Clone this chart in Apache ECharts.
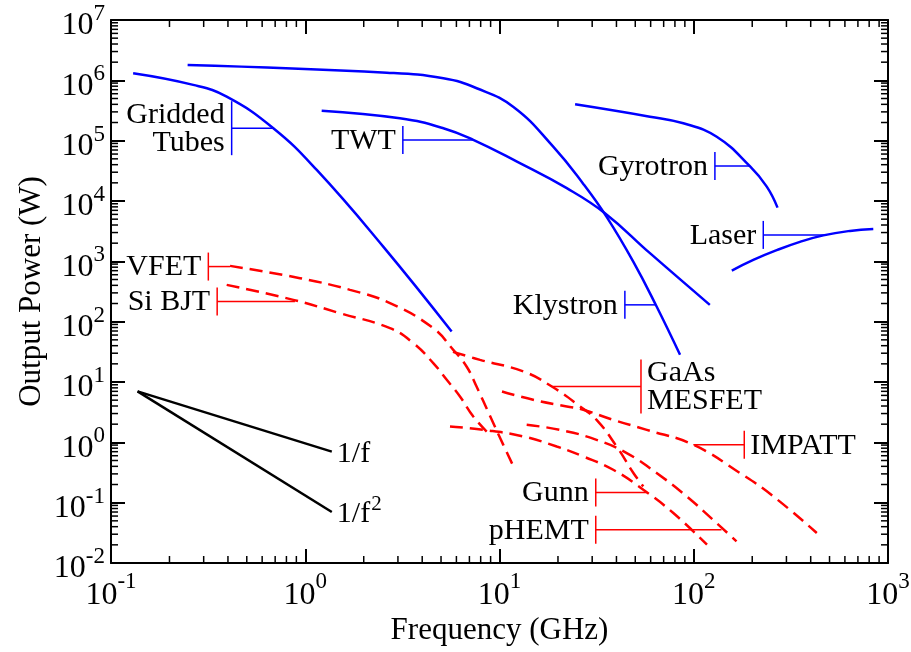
<!DOCTYPE html>
<html>
<head>
<meta charset="utf-8">
<script src="https://cdn.jsdelivr.net/npm/echarts@6/dist/echarts.min.js"></script>
<style>
  html, body { margin: 0; padding: 0; background: #fff; }
  #chart { width: 911px; height: 652px; }
</style>
</head>
<body>
<div id="chart"></div>
<script>
// Output power (W) versus frequency (GHz) for vacuum and solid-state sources.
const FONT = '"Liberation Serif", "Times New Roman", Times, serif';
const BLUE = '#0000ff';
const RED = '#ff0000';

// Axis ranges
const xMin = 0.1, xMax = 1000;
const yMin = 0.01, yMax = 1e7;

// Decade tick labels (drawn as 10 with a raised exponent)
const xTickValues = [0.1, 1, 10, 100, 1000];
const yTickValues = [0.01, 0.1, 1, 10, 100, 1000, 1e4, 1e5, 1e6, 1e7];

// Vacuum devices: [frequency GHz, power W]
const griddedTubes = [[0.130, 1.31e6], [0.265, 8.4e5], [0.394, 5.36e5], [0.685, 1.61e5], [1.146, 3.27e4], [2.52, 1755], [5.67, 68.6]];
const klystron = [[0.248, 1.80e6], [2.63, 1.34e6], [5.14, 1.08e6], [7.63, 7.4e5], [11.8, 3.62e5], [18.9, 7.96e4], [27.0, 1.92e4], [35.6, 5450], [48.9, 979], [64.4, 178], [85, 28.2]];
const twt = [[1.215, 3.14e5], [3.07, 2.35e5], [5.14, 1.61e5], [7.33, 1.03e5], [12.3, 4.49e4], [22.2, 1.63e4], [34.9, 6280], [59.5, 1365], [121, 190]];
const gyrotron = [[24.5, 4.01e5], [59.5, 2.5e5], [88.4, 1.94e5], [131.3, 1.16e5], [195, 3.74e4], [237.6, 1.73e4], [270, 7770]];
const laser = [[157, 703], [202.6, 1057], [267.4, 1531], [352, 2099], [464.5, 2692], [637, 3193], [840, 3450]];

// Solid-state devices
const vfet = [[0.410, 841], [0.939, 526], [1.70, 337], [2.73, 203], [4.56, 78], [5.78, 34.1], [6.78, 17.9], [7.63, 8.32], [8.93, 2.75], [10.06, 1.19], [11.8, 0.398]];
const siBjt = [[0.394, 407], [0.868, 230], [1.51, 138], [2.73, 78], [3.60, 44.1], [4.56, 20.6], [5.35, 10.9], [6.26, 5.75], [7.33, 2.68], [8.59, 1.51]];
const gaasMesfet = [[5.76, 31.6], [7.94, 23.3], [13.3, 14.9], [18.6, 8.42], [26.0, 3.93], [31.6, 2.36], [40.1, 0.853], [48.9, 0.310], [55.0, 0.186]];
const impatt = [[10.3, 6.96], [14.9, 5.07], [22.2, 3.93], [27.0, 3.46], [38.5, 2.36], [57.3, 1.61], [99.5, 0.912], [173, 0.310], [257, 0.127], [430, 0.0314]];
const gunn = [[5.56, 1.83], [8.26, 1.61], [13.3, 1.25], [19.7, 0.853], [27.0, 0.583], [38.5, 0.351], [55.0, 0.164], [78.5, 0.0673], [117, 0.0201]];
const phemt = [[13.8, 1.95], [20.5, 1.61], [31.6, 1.10], [45.2, 0.664], [64.4, 0.310], [92.0, 0.127], [131, 0.046], [166, 0.0228]];

// Reference slopes and their end labels
const slopeOneOverF = [[0.137, 7], [1.37, 0.7]];
const slopeOneOverF2 = [[0.137, 7], [1.37, 0.07]];
const slopeLabelBase = ['1/f', '1/f'];
const slopeLabelSup = ['', '2'];

// Device name callouts: bracket position, pointer end
const noteLabels = ['Gridded\nTubes', 'TWT', 'Klystron', 'Gyrotron', 'Laser', 'VFET', 'Si BJT', 'GaAs\nMESFET', 'IMPATT', 'Gunn', 'pHEMT'];
const noteBarFreq = [0.418, 3.18, 44.2, 128.5, 228, 0.317, 0.352, 53.5, 182, 31.3, 31.3];
const notePower = [1.61e5, 1.03e5, 190, 3.81e4, 2742, 819, 215, 8.42, 0.912, 0.148, 0.0356];
const noteTipFreq = [0.685, 7.33, 63.2, 195, 483, 0.410, 0.885, 18.6, 99.5, 57.3, 139];
const noteSide = ['left', 'left', 'left', 'left', 'left', 'left', 'left', 'right', 'right', 'left', 'left'];
const noteKind = ['tube', 'tube', 'tube', 'tube', 'tube', 'solid', 'solid', 'solid', 'solid', 'solid', 'solid'];

// Minor tick values (2..9 per decade)
const minorSteps = [2, 3, 4, 5, 6, 7, 8, 9];
const xMinor = [];
xTickValues.slice(0, -1).forEach(d => minorSteps.forEach(m => xMinor.push(+(d * m).toPrecision(3))));
const yMinor = [];
yTickValues.slice(0, -1).forEach(d => minorSteps.forEach(m => yMinor.push(+(d * m).toPrecision(3))));

// text measurement for placing exponents next to their base
const measureCtx = document.createElement('canvas').getContext('2d');
function textWidth(str, size) {
  measureCtx.font = size + 'px ' + FONT;
  return measureCtx.measureText(str).width;
}
const TICK_SIZE = 32, TICK_SUP = 23;
const LABEL_SIZE = 30, LABEL_SUP = 21;

function txt(str, x, y, size, align) {
  return { type: 'text', x: x, y: y,
    style: { text: str, fontFamily: FONT, fontSize: size, fill: '#000', align: align, verticalAlign: 'middle' } };
}

function curve(name, data, color, dashed) {
  return {
    name: name,
    type: 'line',
    data: data,
    showSymbol: false,
    smooth: 0.45,
    silent: true,
    lineStyle: { color: color, width: 2.5, type: dashed ? [13, 7] : 'solid' },
    z: 3
  };
}

const MAJOR_LEN = 14, MINOR_LEN = 7;
const axisLineStyle = { color: '#000', width: 2 };
const majorTick = { inside: true, length: MAJOR_LEN, lineStyle: { color: '#000', width: 2 } };

const option = {
  animation: false,
  backgroundColor: '#fff',
  grid: { left: 111, right: 23, top: 20, bottom: 89, outerBoundsMode: 'none' },
  xAxis: [
    {
      type: 'log', logBase: 10, min: xMin, max: xMax, interval: 1,
      name: 'Frequency (GHz)', nameLocation: 'middle', nameGap: 52,
      nameTextStyle: { fontFamily: FONT, fontSize: 31, color: '#000' },
      axisLine: { lineStyle: axisLineStyle }, axisTick: majorTick,
      axisLabel: { show: false }, splitLine: { show: false }
    },
    {
      type: 'log', logBase: 10, min: xMin, max: xMax, interval: 1, position: 'top',
      axisLine: { lineStyle: axisLineStyle }, axisTick: majorTick,
      axisLabel: { show: false }, splitLine: { show: false }
    }
  ],
  yAxis: [
    {
      type: 'log', logBase: 10, min: yMin, max: yMax, interval: 1,
      name: 'Output Power (W)', nameLocation: 'middle', nameGap: 64, nameRotate: 90,
      nameTextStyle: { fontFamily: FONT, fontSize: 31, color: '#000' },
      axisLine: { lineStyle: axisLineStyle }, axisTick: majorTick,
      axisLabel: { show: false }, splitLine: { show: false }
    },
    {
      type: 'log', logBase: 10, min: yMin, max: yMax, interval: 1, position: 'right',
      axisLine: { lineStyle: axisLineStyle }, axisTick: majorTick,
      axisLabel: { show: false }, splitLine: { show: false }
    }
  ],
  series: [
    // minor ticks on the bottom and top edges
    {
      type: 'custom', silent: true, clip: false, z: 5,
      data: xMinor.map(v => [v, 1]),
      renderItem: function (params, api) {
        const v = api.value(0);
        const b = api.coord([v, yMin]);
        const t = api.coord([v, yMax]);
        const st = { stroke: '#000', lineWidth: 1.5 };
        return { type: 'group', children: [
          { type: 'line', shape: { x1: b[0], y1: b[1], x2: b[0], y2: b[1] - MINOR_LEN }, style: st },
          { type: 'line', shape: { x1: t[0], y1: t[1], x2: t[0], y2: t[1] + MINOR_LEN }, style: st }
        ] };
      }
    },
    // minor ticks on the left and right edges
    {
      type: 'custom', silent: true, clip: false, z: 5,
      data: yMinor.map(v => [1, v]),
      renderItem: function (params, api) {
        const v = api.value(1);
        const l = api.coord([xMin, v]);
        const r = api.coord([xMax, v]);
        const st = { stroke: '#000', lineWidth: 1.5 };
        return { type: 'group', children: [
          { type: 'line', shape: { x1: l[0], y1: l[1], x2: l[0] + MINOR_LEN, y2: l[1] }, style: st },
          { type: 'line', shape: { x1: r[0], y1: r[1], x2: r[0] - MINOR_LEN, y2: r[1] }, style: st }
        ] };
      }
    },
    // frequency tick labels
    {
      type: 'custom', silent: true, clip: false, z: 5,
      data: xTickValues.map(v => [v, 1]),
      renderItem: function (params, api) {
        const v = api.value(0);
        const p = api.coord([v, yMin]);
        const e = String(Math.round(Math.log10(v)));
        const wb = textWidth('10', TICK_SIZE), ws = textWidth(e, TICK_SUP);
        const x0 = p[0] - (wb + ws) / 2;
        return { type: 'group', children: [
          txt('10', x0, p[1] + 33, TICK_SIZE, 'left'),
          txt(e, x0 + wb, p[1] + 19, TICK_SUP, 'left')
        ] };
      }
    },
    // power tick labels
    {
      type: 'custom', silent: true, clip: false, z: 5,
      data: yTickValues.map(v => [1, v]),
      renderItem: function (params, api) {
        const v = api.value(1);
        const p = api.coord([xMin, v]);
        const e = String(Math.round(Math.log10(v)));
        const ws = textWidth(e, TICK_SUP);
        const xr = p[0] - 6;
        return { type: 'group', children: [
          txt(e, xr, p[1] - 6, TICK_SUP, 'right'),
          txt('10', xr - ws, p[1] + 6, TICK_SIZE, 'right')
        ] };
      }
    },
    curve('Gridded Tubes', griddedTubes, BLUE, false),
    curve('Klystron', klystron, BLUE, false),
    curve('TWT', twt, BLUE, false),
    curve('Gyrotron', gyrotron, BLUE, false),
    curve('Laser', laser, BLUE, false),
    curve('VFET', vfet, RED, true),
    curve('Si BJT', siBjt, RED, true),
    curve('GaAs MESFET', gaasMesfet, RED, true),
    curve('IMPATT', impatt, RED, true),
    curve('Gunn', gunn, RED, true),
    curve('pHEMT', phemt, RED, true),
    {
      name: '1/f', type: 'line', data: slopeOneOverF, showSymbol: false, silent: true,
      lineStyle: { color: '#000', width: 2.5 }
    },
    {
      name: '1/f2', type: 'line', data: slopeOneOverF2, showSymbol: false, silent: true,
      lineStyle: { color: '#000', width: 2.5 }
    },
    // slope labels at the line ends
    {
      type: 'custom', silent: true, clip: false, z: 6,
      data: [slopeOneOverF[1], slopeOneOverF2[1]],
      renderItem: function (params, api) {
        const i = params.dataIndex;
        const p = api.coord([api.value(0), api.value(1)]);
        const x0 = p[0] + 5;
        const base = slopeLabelBase[i], sup = slopeLabelSup[i];
        const wb = textWidth(base, LABEL_SIZE);
        const children = [txt(base, x0, p[1] + 2, LABEL_SIZE, 'left')];
        if (sup) children.push(txt(sup, x0 + wb + 1, p[1] - 8, LABEL_SUP, 'left'));
        return { type: 'group', children: children };
      }
    },
    // device callouts
    {
      type: 'custom', silent: true, clip: false, z: 6,
      data: noteLabels.map((t, i) => [noteBarFreq[i], notePower[i], noteTipFreq[i]]),
      renderItem: function (params, api) {
        const i = params.dataIndex;
        const p = api.coord([api.value(0), api.value(1)]);
        const q = api.coord([api.value(2), api.value(1)]);
        const text = noteLabels[i];
        const lines = text.split('\n').length;
        const half = lines > 1 ? 27 : 14;
        const color = noteKind[i] === 'tube' ? BLUE : RED;
        const st = { stroke: color, lineWidth: 1.5 };
        const left = noteSide[i] === 'left';
        return { type: 'group', children: [
          { type: 'line', shape: { x1: p[0], y1: p[1] - half, x2: p[0], y2: p[1] + half }, style: st },
          { type: 'line', shape: { x1: p[0], y1: p[1], x2: q[0], y2: q[1] }, style: st },
          { type: 'text', x: left ? p[0] - 7 : p[0] + 6, y: p[1] + 1,
            style: { text: text, align: left ? 'right' : 'left', verticalAlign: 'middle',
                     fontFamily: FONT, fontSize: LABEL_SIZE, lineHeight: 28, fill: '#000' } }
        ] };
      }
    }
  ]
};

const chart = echarts.init(document.getElementById('chart'), null, { renderer: 'canvas' });
chart.setOption(option);
</script>
</body>
</html>
